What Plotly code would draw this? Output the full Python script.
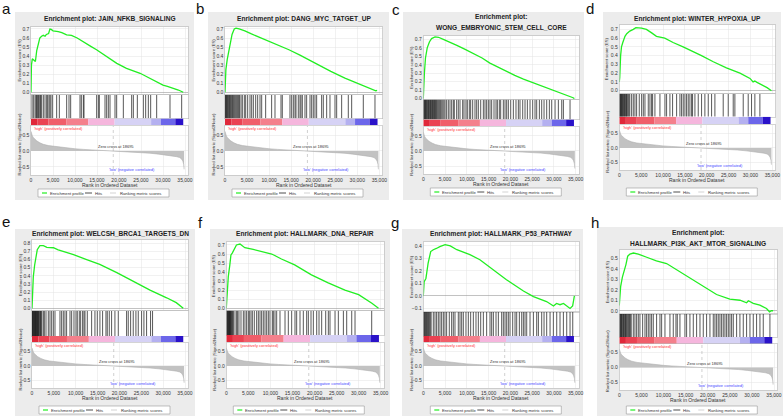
import plotly.graph_objects as go

W, H = 783, 416
FONT = "Arial, Liberation Sans, sans-serif"

# ---------------- data ----------------
letters = ["a", "b", "c", "d", "e", "f", "g", "h"]
titles = [
    ["Enrichment plot: JAIN_NFKB_SIGNALING"],
    ["Enrichment plot: DANG_MYC_TATGET_UP"],
    ["Enrichment plot:", "WONG_EMBRYONIC_STEM_CELL_CORE"],
    ["Enrichment plot: WINTER_HYPOXIA_UP"],
    ["Enrichment plot: WELCSH_BRCA1_TARGETS_DN"],
    ["Enrichment plot: HALLMARK_DNA_REPAIR"],
    ["Enrichment plot: HALLMARK_P53_PATHWAY"],
    ["Enrichment plot:", "HALLMARK_PI3K_AKT_MTOR_SIGNALING"],
]

x_ticks = [0, 5000, 10000, 15000, 20000, 25000, 30000, 35000]
zero_cross = 18695

ranked_x = [0, 100, 300, 500, 800, 1300, 2000, 2800, 4000, 5000, 6500, 8100, 10000, 11900,
            14000, 15700, 17500, 18695, 20500, 23300, 25000, 27000, 29000, 30800, 32000,
            33100, 33800, 34200, 34500, 34700, 34800]
ranked_y = [0.62, 0.55, 0.48, 0.43, 0.38, 0.32, 0.26, 0.21, 0.17, 0.15, 0.12, 0.10, 0.07, 0.05,
            0.035, 0.02, 0.01, 0.0, -0.015, -0.03, -0.045, -0.07, -0.10, -0.13, -0.15,
            -0.18, -0.21, -0.25, -0.32, -0.42, -0.58]

cbar_edges = [0, 1500, 4000, 8000, 13000, 19000, 27300, 29500, 32800, 34600]
cbar_colors = ["#e0283a", "#ea4252", "#f05e6a", "#f4808c", "#f5b6dd", "#d6d2f5",
               "#b4b0f0", "#6c66ea", "#2a12c9"]

es_a_x = [0, 100, 300, 700, 1000, 1300, 1700, 2000, 2400, 2800, 3200, 3500, 4000, 4300, 4600,
          5000, 6200, 7000, 8100, 9200, 10500, 11900, 13500, 14900, 16500, 18000, 19500,
          21700, 23200, 24800, 26000, 27000, 28500, 30000, 31000, 31600, 32500, 33500, 34600]
es_a_y = [0.0, 0.30, 0.37, 0.35, 0.34, 0.46, 0.56, 0.60, 0.62, 0.63, 0.62, 0.64, 0.65, 0.70,
          0.695, 0.68, 0.67, 0.66, 0.635, 0.63, 0.60, 0.555, 0.51, 0.47, 0.42, 0.37, 0.32,
          0.265, 0.24, 0.21, 0.18, 0.155, 0.12, 0.08, 0.065, 0.055, 0.045, 0.025, 0.0]
es_b_x = [0, 200, 500, 800, 1000, 1300, 1600, 2100, 2500, 3200, 4500, 6000, 8300, 10000,
          12100, 14500, 17000, 19600, 22000, 24000, 27200, 29000, 31000, 33000, 34200, 34500]
es_b_y = [0.0, 0.25, 0.36, 0.45, 0.50, 0.59, 0.64, 0.70, 0.71, 0.70, 0.68, 0.645, 0.60, 0.56,
          0.52, 0.47, 0.41, 0.34, 0.28, 0.23, 0.155, 0.12, 0.08, 0.04, 0.015, 0.02]
es_c_x = [0, 100, 250, 500, 900, 1400, 1900, 2700, 3500, 4600, 6000, 7700, 9500, 11500, 13500,
          15300, 17200, 19100, 21000, 23000, 24800, 26800, 28700, 30600, 32500, 34400, 34700]
es_c_y = [0.0, 0.15, 0.30, 0.48, 0.60, 0.67, 0.71, 0.73, 0.725, 0.70, 0.67, 0.63, 0.585,
          0.535, 0.48, 0.42, 0.37, 0.32, 0.275, 0.23, 0.195, 0.165, 0.125, 0.086, 0.05, 0.01, 0.0]
es_d_x = [0, 100, 300, 500, 800, 1300, 1700, 2400, 3200, 3800, 5100, 6200, 7400, 8500, 10400,
          12300, 14600, 16900, 18800, 21500, 24500, 27600, 29900, 30600, 31000, 31500, 32500,
          33800, 34800]
es_d_y = [0.10, 0.15, 0.40, 0.50, 0.55, 0.62, 0.65, 0.68, 0.70, 0.72, 0.715, 0.70, 0.66, 0.62,
          0.60, 0.55, 0.50, 0.45, 0.40, 0.33, 0.26, 0.20, 0.14, 0.10, 0.11, 0.095, 0.07, 0.035, 0.0]
es_e_x = [0, 100, 300, 600, 900, 1200, 1800, 2600, 3400, 4200, 4900, 6000, 7200, 9500, 12500,
          15500, 19400, 23200, 27000, 30800, 33000, 34600]
es_e_y = [0.0, 0.20, 0.39, 0.53, 0.66, 0.72, 0.77, 0.77, 0.75, 0.75, 0.745, 0.72, 0.70, 0.66,
          0.60, 0.54, 0.44, 0.33, 0.225, 0.13, 0.07, 0.0]
es_f_x = [0, 200, 450, 800, 1050, 1350, 1800, 2300, 3100, 4200, 6100, 8000, 10300, 12500,
          15500, 19300, 23100, 26900, 30000, 33000, 34500]
es_f_y = [0.0, 0.22, 0.35, 0.48, 0.59, 0.61, 0.66, 0.70, 0.71, 0.67, 0.65, 0.63, 0.60, 0.545,
          0.48, 0.37, 0.28, 0.20, 0.15, 0.055, 0.0]
es_g_x = [0, 200, 600, 1100, 1700, 2300, 3000, 3800, 5000, 6200, 7700, 9200, 10700, 13000,
          15300, 19100, 23000, 25300, 28300, 29900, 30600, 31400, 32200, 33100, 33700, 34300, 34700]
es_g_y = [0.0, 0.115, 0.14, 0.26, 0.355, 0.37, 0.38, 0.395, 0.41, 0.40, 0.37, 0.35, 0.33, 0.29,
          0.23, 0.13, 0.04, -0.005, -0.045, -0.08, -0.06, -0.07, -0.06, -0.08, -0.10, -0.08, 0.0]
es_h_x = [0, 300, 700, 1100, 1500, 1900, 2400, 3200, 4300, 6200, 8400, 10700, 13000, 16000,
          19000, 22000, 25000, 27300, 28800, 29200, 30300, 31800, 33300, 34000, 34400, 34800]
es_h_y = [0.05, 0.23, 0.32, 0.37, 0.44, 0.52, 0.54, 0.55, 0.54, 0.51, 0.475, 0.45, 0.39, 0.31,
          0.23, 0.155, 0.11, 0.10, 0.076, 0.095, 0.07, 0.054, 0.022, -0.01, 0.0, 0.0]

hits_a = [227, 530, 909, 1136, 1288, 1439, 1667, 1818, 2045, 2197, 2424, 2803, 3182, 3561, 3788,
          4091, 4318, 4545, 4924, 5833, 6439, 8106, 8636, 9015, 11136, 11439, 11894, 12045,
          14924, 15303, 15530, 16818, 17197, 17576, 17955, 19091, 19470, 20985, 22879, 23258,
          24167, 25530, 26061, 26667, 27197, 28561, 31591, 34242]
hits_b = [50, 150, 300, 400, 550, 700, 850, 1000, 1150, 1300, 1500, 1700, 1900, 2100, 2300, 2500,
          2700, 2900, 3100, 3300, 3630, 3930, 4385, 4690, 5140, 5670, 6050, 6430, 6960, 7410,
          7940, 8320, 9220, 10580, 11340, 12700, 13000, 14740, 15120, 15500, 15880, 16100, 16630,
          17010, 17240, 17540, 18140, 18520, 19280, 19660, 20030, 20410, 20790, 21920, 22300,
          23060, 23810, 24950, 25330, 26460, 27970, 28730, 31370, 34020]
hits_c = [30, 120, 250, 380, 500, 620, 760, 900, 1050, 1200, 1350, 1500, 1650, 1800, 1950, 2100,
          2250, 2400, 2550, 2700, 2850, 3000, 3200, 3400, 3600, 3800, 4000, 4250, 4500, 4750,
          5000, 5360, 5745, 6130, 6510, 6890, 7120, 7660, 8040, 8430, 9040, 9350, 9800, 10110,
          10570, 10880, 11340, 11870, 12260, 12640, 13180, 13790, 14170, 14550, 14940, 15320,
          15700, 16240, 16700, 17010, 17460, 17770, 18380, 18770, 19150, 19530, 20070, 20680,
          21290, 21830, 22210, 22830, 23360, 23900, 24510, 25120, 25660, 26040, 26660, 27190,
          27730, 28340, 28950, 29490, 30260, 31020, 31790, 32170, 33700]
hits_d = [40, 150, 280, 400, 520, 650, 780, 900, 1050, 1200, 1350, 1500, 1650, 1800, 2000, 2200,
          2400, 2820, 3200, 3580, 3960, 4570, 5110, 5490, 5870, 6630, 7010, 7390, 7620, 8150,
          9300, 10440, 10820, 11580, 12190, 13110, 13870, 14250, 14630, 15010, 15390, 15770,
          16150, 16540, 16760, 17300, 18060, 18820, 19580, 20350, 21110, 21870, 23770, 24920,
          26060, 26440, 28350, 29490, 30250, 31010, 32160]
hits_e = [20, 100, 200, 300, 400, 500, 600, 700, 800, 900, 1000, 1100, 1200, 1300, 1400, 1500,
          1650, 1800, 1950, 2100, 2250, 2590, 2820, 3200, 3730, 4110, 4500, 4880, 5260, 6400,
          6780, 7160, 7540, 7920, 8690, 9070, 9600, 10060, 10360, 10820, 11130, 11580, 11890,
          12120, 12650, 13640, 14400, 14940, 15540, 16150, 16920, 17220, 17680, 18210, 18970,
          19740, 21640, 22020, 22560, 23160, 23770, 24310, 25070, 25600, 26210, 27120, 27580]
hits_f = [30, 120, 220, 320, 420, 520, 620, 720, 820, 920, 1020, 1150, 1300, 1450, 1600, 1970,
          2340, 2570, 2870, 3330, 3860, 4230, 4610, 4990, 5220, 5590, 5900, 6350, 6880, 7260,
          7640, 8010, 8390, 8770, 9150, 9530, 9900, 10430, 10660, 11040, 11420, 12170, 13310,
          14060, 14820, 15570, 15950, 16710, 17460, 18220, 18600, 19200, 19730, 20490, 21020,
          21620, 22530, 23130, 23510, 24650, 25400, 26540, 27290, 28430, 29180, 32960]
hits_g = [20, 120, 250, 400, 550, 700, 850, 1000, 1200, 1400, 1600, 1800, 2300, 2680, 3060, 3450,
          3830, 4210, 4600, 4980, 5360, 5970, 6510, 6890, 7280, 8040, 8430, 8810, 9190, 9800,
          10340, 10880, 11490, 12100, 12640, 13180, 13790, 14550, 15320, 15700, 16090, 16700,
          17240, 18000, 18380, 18770, 19150, 19530, 19920, 20530, 21070, 21450, 22060, 22600,
          22980, 23360, 23750, 24510, 25280, 26040, 26430, 27190, 27730, 28340, 29110, 29870,
          30640, 31400, 32170, 32940, 33700, 34320]
hits_h = [20, 120, 250, 380, 500, 650, 800, 950, 1100, 1250, 1400, 1550, 1700, 1900, 2100, 2300,
          2500, 2700, 3170, 3540, 3920, 4300, 4670, 5280, 5810, 6180, 6560, 6940, 7310, 7690,
          8440, 9200, 9580, 10330, 11460, 12210, 12820, 13120, 13720, 14850, 15230, 15980,
          16740, 17490, 18250, 19000, 19750, 20510, 21260, 21640, 22020, 22390, 22770, 23150,
          23520, 23900, 24280, 24660, 25030, 25410, 25790, 26540, 27290, 28050, 28800, 29560,
          30310, 31060, 31820, 32570, 34080]

es_x = [es_a_x, es_b_x, es_c_x, es_d_x, es_e_x, es_f_x, es_g_x, es_h_x]
es_y = [es_a_y, es_b_y, es_c_y, es_d_y, es_e_y, es_f_y, es_g_y, es_h_y]
hits = [hits_a, hits_b, hits_c, hits_d, hits_e, hits_f, hits_g, hits_h]
es_ranges = [(-0.019, 0.722), (-0.02, 0.722), (-0.005, 0.74), (-0.023, 0.75),
             (-0.02, 0.84), (-0.019, 0.736), (-0.126, 0.434), (-0.031, 0.579)]
rank_range = (-0.76, 0.79)
x_max = 35750

# ---------------- geometry (pixels) ----------------
geo = [
    dict(x0=31, x35=185, es=(27, 94), hits=(95, 118.5), cb=(118.5, 125), rk=(126, 175), ty=[19], box=(15, 12, 194, 200), let=(6, 8), leg=189),
    dict(x0=225, x35=379.3, es=(27, 94), hits=(95, 118.5), cb=(118.5, 125), rk=(126, 175), ty=[19], box=(208, 12, 389, 200), let=(200, 8), leg=189),
    dict(x0=423.3, x35=575.7, es=(36, 99), hits=(99.5, 119.5), cb=(119.5, 126), rk=(127, 174), ty=[17, 28], box=(403, 12, 584, 200), let=(396, 9), leg=188),
    dict(x0=619.3, x35=772.3, es=(25, 92.7), hits=(94, 116.7), cb=(116.7, 124), rk=(125, 170), ty=[19], box=(603, 12, 781, 200), let=(590, 8), leg=188),
    dict(x0=32, x35=185, es=(240, 310), hits=(311, 336), cb=(336, 342), rk=(343, 388), ty=[234], box=(15, 229, 195, 420), let=(6, 221), leg=406),
    dict(x0=226.3, x35=380.7, es=(241.7, 310), hits=(310.5, 335), cb=(335, 342), rk=(343, 388), ty=[234], box=(210, 229, 390, 420), let=(200, 222), leg=406),
    dict(x0=423.3, x35=575.7, es=(241.7, 311.7), hits=(312, 336), cb=(336, 342), rk=(343, 388), ty=[234], box=(402, 229, 583, 420), let=(395, 222), leg=406),
    dict(x0=619.3, x35=774, es=(250, 314), hits=(314, 337), cb=(337, 344), rk=(344, 390), ty=[233, 243], box=(597, 227, 783, 420), let=(595, 222), leg=406),
]


def fx(p):
    return p / W


def fy(p):
    return 1 - p / H


fig = go.Figure()
layout = {}
shapes = []
annos = []
count = [0]

GRID = "#e4e4e4"
BORDER = "#b8b8b8"
TICKF = dict(family=FONT, size=5, color="#333")


def paper_text(px, py, text, size, color="#333", angle=0, xanchor="center", bold=False):
    annos.append(dict(x=fx(px), y=fy(py), xref="paper", yref="paper",
                      text=("<b>%s</b>" % text) if bold else text, textangle=angle,
                      showarrow=False, xanchor=xanchor, yanchor="middle",
                      font=dict(family=FONT, size=size, color=color)))


def new_axes(xl, xr, top, bot, xr_range, yr, xkw=None, ykw=None):
    count[0] += 1
    k = count[0]
    sx = "" if k == 1 else str(k)
    xk, yk = "xaxis" + sx, "yaxis" + sx
    xd = dict(domain=[fx(xl), fx(xr)], range=list(xr_range), anchor="y" + sx, automargin=False,
              showgrid=False, zeroline=False, showticklabels=False, ticks="",
              showline=True, mirror=True, linecolor=BORDER, linewidth=0.6)
    yd = dict(domain=[fy(bot), fy(top)], range=list(yr), anchor="x" + sx, automargin=False,
              showgrid=False, zeroline=False, showticklabels=False, ticks="",
              showline=True, mirror=True, linecolor=BORDER, linewidth=0.6)
    if xkw:
        xd.update(xkw)
    if ykw:
        yd.update(ykw)
    layout[xk] = xd
    layout[yk] = yd
    return "x" + sx, "y" + sx


for i in range(8):
    g = geo[i]
    x0 = g["x0"]
    xr = x0 + (g["x35"] - x0) * x_max / 35000.0
    bx0, by0, bx1, by1 = g["box"]
    shapes.append(dict(type="rect", xref="paper", yref="paper", x0=fx(bx0), x1=fx(bx1),
                       y0=fy(by1), y1=fy(by0), fillcolor="#ececec", line=dict(width=0), layer="below"))
    shapes.append(dict(type="rect", xref="paper", yref="paper", x0=fx(x0), x1=fx(xr),
                       y0=fy(g["rk"][1]), y1=fy(g["es"][0]), fillcolor="white", line=dict(width=0), layer="below"))

    # ---- ES axis
    xa, ya = new_axes(x0, xr, g["es"][0], g["es"][1], (0, x_max), es_ranges[i],
                      xkw=dict(showgrid=True, gridcolor=GRID, gridwidth=0.5, tickvals=x_ticks),
                      ykw=dict(showgrid=True, gridcolor=GRID, gridwidth=0.5, dtick=0.1, tick0=0,
                               showticklabels=True, tickformat=".1f", tickfont=TICKF,
                               zeroline=True, zerolinecolor="#9a9a9a", zerolinewidth=0.6))
    fig.add_trace(go.Scatter(x=es_x[i], y=es_y[i], mode="lines", xaxis=xa, yaxis=ya,
                             line=dict(color="#22ee22", width=1.3), showlegend=False))

    # ---- hits axis
    xa, ya = new_axes(x0, xr, g["hits"][0], g["hits"][1], (0, x_max), (0, 1))
    hx, hy = [], []
    for h in hits[i]:
        hx += [h, h, None]
        hy += [0, 1, None]
    fig.add_trace(go.Scatter(x=hx, y=hy, mode="lines", xaxis=xa, yaxis=ya,
                             line=dict(color="#111", width=0.7), showlegend=False))

    # ---- color bar axis
    xa, ya = new_axes(x0, xr, g["cb"][0], g["cb"][1], (0, x_max), (-0.5, 0.5),
                      xkw=dict(showline=False), ykw=dict(showline=False))
    starts = cbar_edges[:-1]
    widths = [cbar_edges[j + 1] - cbar_edges[j] for j in range(len(starts))]
    fig.add_trace(go.Bar(x=widths, base=starts, y=[0] * len(starts), orientation="h", width=1,
                         marker=dict(color=cbar_colors, line=dict(width=0)),
                         xaxis=xa, yaxis=ya, showlegend=False))

    # ---- ranked metric axis
    xa, ya = new_axes(x0, xr, g["rk"][0], g["rk"][1], (0, x_max), rank_range,
                      xkw=dict(showgrid=True, gridcolor=GRID, gridwidth=0.5, tickvals=x_ticks,
                               showticklabels=True, tickformat=",d", tickfont=TICKF, ticklen=0),
                      ykw=dict(showgrid=True, gridcolor=GRID, gridwidth=0.5,
                               tickvals=[-0.5, 0.0, 0.5], ticktext=["-0.5", "0.0", "0.5"],
                               showticklabels=True, tickfont=TICKF))
    fig.add_trace(go.Scatter(x=ranked_x, y=ranked_y, mode="lines", fill="tozeroy",
                             fillcolor="#c2c2c2", line=dict(color="#b0b0b0", width=0.6),
                             xaxis=xa, yaxis=ya, showlegend=False))
    fig.add_trace(go.Scatter(x=[zero_cross, zero_cross], y=list(rank_range), mode="lines",
                             line=dict(color="#a0a0a0", width=0.5, dash="dot"),
                             xaxis=xa, yaxis=ya, showlegend=False))
    annos.append(dict(x=zero_cross + 700, y=0.14, xref=xa, yref=ya, text="Zero cross at 18695",
                      showarrow=False, xanchor="center", yanchor="middle",
                      font=dict(family=FONT, size=4, color="#333")))
    annos.append(dict(x=23000, y=-0.6, xref=xa, yref=ya, text="'low' (negative correlated)",
                      showarrow=False, xanchor="center", yanchor="middle",
                      font=dict(family=FONT, size=4, color="#4444ff")))
    annos.append(dict(x=300, y=0.7, xref=xa, yref=ya, text="'high' (positively correlated)",
                      showarrow=False, xanchor="left", yanchor="middle",
                      font=dict(family=FONT, size=4, color="#ff3030")))

    # ---- texts
    cx = (x0 + xr) / 2
    for tline, ty in zip(titles[i], g["ty"]):
        paper_text(cx, ty, tline, 6.6, "#222", bold=True)
    paper_text(g["let"][0], g["let"][1], letters[i], 15, "#111")
    paper_text(x0 - 12, (g["es"][0] + g["es"][1]) / 2, "Enrichment score (ES)", 4.2, angle=-90)
    paper_text(x0 - 12, (g["rk"][0] + g["rk"][1]) / 2 - 6, "Ranked list metric (Signal2Noise)", 4.2, angle=-90)
    paper_text(cx, g["rk"][1] + 10, "Rank in Ordered Dataset", 5)

    # ---- legend box
    ly0 = g["leg"]
    ly1 = ly0 + 8
    lm = (ly0 + ly1) / 2
    shapes.append(dict(type="rect", xref="paper", yref="paper", x0=fx(x0 + 7), x1=fx(x0 + 138),
                       y0=fy(ly1), y1=fy(ly0), fillcolor="white", line=dict(color="#999", width=0.6)))
    for (a, b, col) in [(11, 16, "#22ee22"), (54, 61, "#222"), (79, 85, "#c8c8c8")]:
        shapes.append(dict(type="line", xref="paper", yref="paper", x0=fx(x0 + a), x1=fx(x0 + b),
                           y0=fy(lm), y1=fy(lm), line=dict(color=col, width=1.2 if col == "#22ee22" else 0.8)))
    for (a, t) in [(17, "Enrichment profile"), (62, "Hits"), (87, "Ranking metric scores")]:
        paper_text(x0 + a, lm, t, 4.2, xanchor="left")

fig.update_layout(**layout)
fig.update_layout(width=W, height=H, margin=dict(l=0, r=0, t=0, b=0, autoexpand=False),
                  paper_bgcolor="white", plot_bgcolor="white", barmode="overlay",
                  shapes=shapes, annotations=annos, showlegend=False,
                  font=dict(family=FONT), hovermode=False)
fig.write_html("out.html", config={"displayModeBar": False, "staticPlot": True},
               post_script="document.body.style.margin='0';document.body.style.padding='0';")
